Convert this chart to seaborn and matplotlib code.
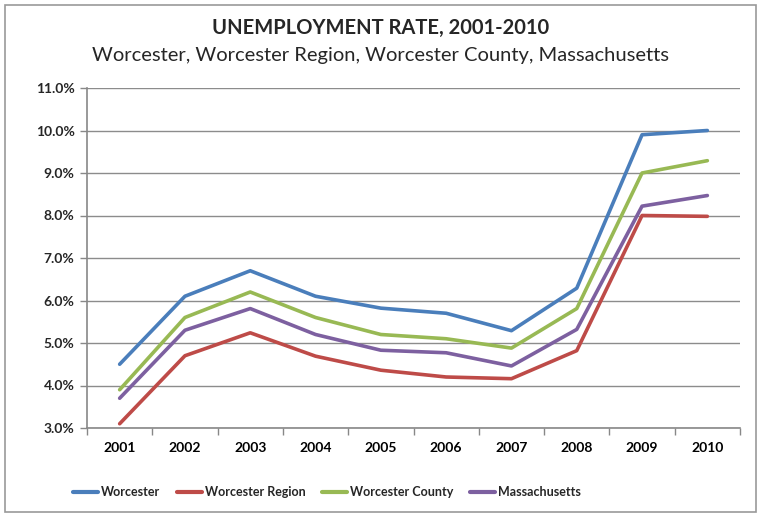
import matplotlib
matplotlib.use("Agg")
import matplotlib.pyplot as plt
import seaborn as sns
import pandas as pd
import numpy as np
from matplotlib.ticker import FuncFormatter, FixedLocator
from matplotlib.patches import Rectangle
from matplotlib.lines import Line2D

years = ["2001", "2002", "2003", "2004", "2005", "2006", "2007", "2008", "2009", "2010"]
worcester = [4.5, 6.1, 6.7, 6.1, 5.82, 5.7, 5.29, 6.29, 9.9, 10.0]
worcester_region = [3.1, 4.7, 5.24, 4.69, 4.36, 4.2, 4.16, 4.82, 8.0, 7.98]
worcester_county = [3.9, 5.6, 6.2, 5.6, 5.2, 5.1, 4.88, 5.81, 9.0, 9.29]
massachusetts = [3.7, 5.3, 5.81, 5.2, 4.83, 4.77, 4.46, 5.32, 8.22, 8.47]
series_names = ["Worcester", "Worcester Region", "Worcester County", "Massachusetts"]
colors = ["#4A7EBB", "#BE4B48", "#98B954", "#7D60A0"]

sns.set_theme(style="white")
plt.rcParams['font.family'] = ['Lato', 'DejaVu Sans']

rows = []
for name, vals in zip(series_names, [worcester, worcester_region, worcester_county, massachusetts]):
    for i, v in enumerate(vals):
        rows.append({"idx": i, "year": years[i], "rate": v, "series": name})
df = pd.DataFrame(rows)

fig = plt.figure(figsize=(7.61, 5.17), dpi=100)
ax = fig.add_axes([87/761, 1-428/517, (740-87)/761, (428-88)/517])

sns.lineplot(data=df, x="idx", y="rate", hue="series", hue_order=series_names,
             palette=colors, linewidth=2.6, ax=ax, legend=False, sort=False)

ax.set_xlim(-0.5, 9.5)
ax.set_ylim(3.0, 11.0)
ax.set_yticks(np.arange(3, 11.01, 1))
ax.yaxis.set_major_formatter(FuncFormatter(lambda v, p: f"{v:.1f}%"))
ax.set_xticks(range(10))
ax.set_xticklabels(years)
ax.xaxis.set_minor_locator(FixedLocator(np.arange(-0.5, 9.6, 1)))
ax.tick_params(axis="x", which="major", length=0, pad=10, labelsize=10, colors="black")
ax.tick_params(axis="x", which="minor", length=5, width=1, color="#888888", direction="out", bottom=True)
ax.tick_params(axis="y", length=5, width=1, color="#888888", direction="out", left=True, pad=4, labelsize=10)
for lab in ax.get_xticklabels() + ax.get_yticklabels():
    lab.set_fontweight("bold")
ax.grid(axis="y", color="#8c8c8c", linewidth=1)
ax.set_axisbelow(True)
ax.set_xlabel("")
ax.set_ylabel("")
for s in ["top", "right"]:
    ax.spines[s].set_visible(False)
for s in ["left", "bottom"]:
    ax.spines[s].set_color("#888888")
    ax.spines[s].set_linewidth(1.2)

fig.text(0.5, 1-28/517, "UNEMPLOYMENT RATE, 2001-2010", ha="center", va="center",
         fontsize=14.5, fontweight="bold")
fig.text(0.5, 1-56/517, "Worcester, Worcester Region, Worcester County, Massachusetts",
         ha="center", va="center", fontsize=14.5)

handles = [Line2D([0], [0], color=c, linewidth=3) for c in colors]
leg = fig.legend(handles, series_names, loc="center left", bbox_to_anchor=(62/761, 1-492/517),
                 ncol=4, frameon=False, prop={'weight': 'bold', 'size': 9},
                 handlelength=2.0, handletextpad=0.25, columnspacing=1.3)

fig.patches.append(Rectangle((5/761, 5/517), 751/761, 507/517, transform=fig.transFigure,
                             fill=False, edgecolor="#999999", linewidth=1.2))

fig.savefig("out.png", dpi=100)
